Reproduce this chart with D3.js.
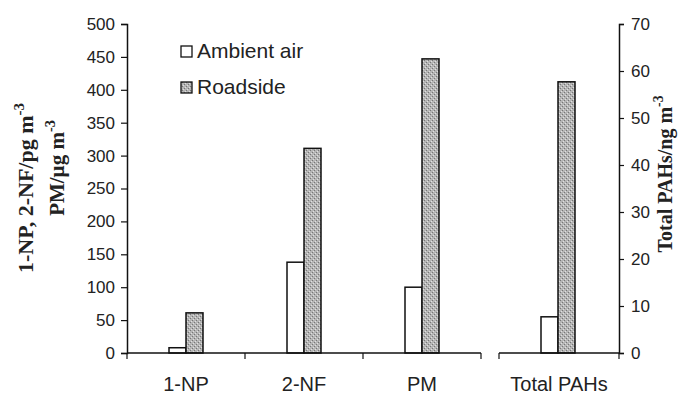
<!DOCTYPE html>
<html>
<head>
<meta charset="utf-8">
<script src="https://cdn.jsdelivr.net/npm/d3@7"></script>
<style>
  body { margin: 0; background: #fff; }
  text { font-family: Arial, "Liberation Sans", sans-serif; fill: #222; }
  .title { font-family: "Times New Roman", "Liberation Serif", serif; font-weight: bold; fill: #222; }
</style>
</head>
<body>
<div id="chart"></div>
<script>
const leftCategories = ["1-NP", "2-NF", "PM"];
const rightCategories = ["Total PAHs"];
const series = ["Ambient air", "Roadside"];
const ambientLeft = [8, 138, 100];
const roadsideLeft = [61, 311, 447];
const ambientRight = [7.7];
const roadsideRight = [57.7];
const leftTicks = [0, 50, 100, 150, 200, 250, 300, 350, 400, 450, 500];
const rightTicks = [0, 10, 20, 30, 40, 50, 60, 70];

const width = 689;
const height = 396;

const svg = d3.select("#chart")
  .append("svg")
  .attr("width", width)
  .attr("height", height);

// dotted grey fill like the scanned original
const pat = svg.append("defs").append("pattern")
  .attr("id", "grain")
  .attr("width", 4)
  .attr("height", 4)
  .attr("patternUnits", "userSpaceOnUse");
pat.append("rect").attr("width", 4).attr("height", 4).attr("fill", "#b5b5b5");
pat.append("rect").attr("x", 0).attr("y", 0).attr("width", 1).attr("height", 1).attr("fill", "#777");
pat.append("rect").attr("x", 2).attr("y", 2).attr("width", 1).attr("height", 1).attr("fill", "#777");
pat.append("rect").attr("x", 1).attr("y", 3).attr("width", 1).attr("height", 1).attr("fill", "#e0e0e0");
pat.append("rect").attr("x", 3).attr("y", 1).attr("width", 1).attr("height", 1).attr("fill", "#e0e0e0");

const y0 = 353, yTop = 24;
const yLeft = d3.scaleLinear().domain([0, 500]).range([y0, yTop]);
const yRight = d3.scaleLinear().domain([0, 70]).range([y0, yTop]);

const xLeft = d3.scaleBand().domain(leftCategories).range([127, 481]);
const xRight = d3.scaleBand().domain(rightCategories).range([499, 619]);

const barW = 17;
const inner = d3.scaleBand().domain(series)
  .range([xLeft.bandwidth() / 2 - barW, xLeft.bandwidth() / 2 + barW]);

function drawBars(x, y, cats, amb, road) {
  cats.forEach((c, i) => {
    [amb[i], road[i]].forEach((v, j) => {
      svg.append("rect")
        .attr("x", x(c) + inner(series[j]))
        .attr("y", y(v))
        .attr("width", inner.bandwidth())
        .attr("height", y0 - y(v))
        .attr("fill", j === 0 ? "#fff" : "url(#grain)")
        .attr("stroke", "#111")
        .attr("stroke-width", 1.5);
    });
  });
}
drawBars(xLeft, yLeft, leftCategories, ambientLeft, roadsideLeft);
drawBars(xRight, yRight, rightCategories, ambientRight, roadsideRight);

// y axes
const axL = svg.append("g")
  .attr("transform", "translate(127,0)")
  .call(d3.axisLeft(yLeft).tickValues(leftTicks).tickSize(6).tickPadding(6));
const axR = svg.append("g")
  .attr("transform", "translate(619,0)")
  .call(d3.axisRight(yRight).tickValues(rightTicks).tickSize(5).tickPadding(7));
[axL, axR].forEach(a => {
  a.select(".domain").attr("stroke", "#111").attr("stroke-width", 1.5);
  a.selectAll(".tick line").attr("stroke", "#111").attr("stroke-width", 1.2);
  a.selectAll(".tick text").style("font-size", "17px").attr("fill", "#222");
});

// x axes with ticks at category boundaries
function xAxis(x, cats) {
  const r = x.range();
  const g = svg.append("g");
  g.append("line")
    .attr("x1", r[0]).attr("x2", r[1])
    .attr("y1", y0).attr("y2", y0)
    .attr("stroke", "#111").attr("stroke-width", 1.5);
  const edges = cats.map(c => x(c)).concat([r[1]]);
  edges.forEach(e => {
    g.append("line")
      .attr("x1", e).attr("x2", e)
      .attr("y1", y0).attr("y2", y0 + 6)
      .attr("stroke", "#111").attr("stroke-width", 1.2);
  });
  cats.forEach(c => {
    g.append("text")
      .attr("x", x(c) + x.bandwidth() / 2)
      .attr("y", 391)
      .attr("text-anchor", "middle")
      .style("font-size", "20px")
      .text(c);
  });
}
xAxis(xLeft, leftCategories);
xAxis(xRight, rightCategories);

// legend
series.forEach((s, i) => {
  const ly = 46 + i * 36;
  svg.append("rect")
    .attr("x", 181).attr("y", ly)
    .attr("width", 11).attr("height", 11)
    .attr("fill", i === 0 ? "#fff" : "url(#grain)")
    .attr("stroke", "#111").attr("stroke-width", 1.3);
  svg.append("text")
    .attr("x", 197).attr("y", ly + 12)
    .style("font-size", "21px")
    .text(s);
});

// axis titles
function rotTitle(x, y, main, size) {
  const t = svg.append("text")
    .attr("class", "title")
    .attr("transform", `translate(${x},${y}) rotate(-90)`)
    .attr("text-anchor", "middle")
    .style("font-size", size + "px");
  t.append("tspan").text(main);
  t.append("tspan").attr("dy", -9).style("font-size", (size * 0.68) + "px").text("-3");
}
rotTitle(33, 188, "1-NP, 2-NF/pg m", 22);
rotTitle(64, 168, "PM/\u00b5g m", 21);
rotTitle(672, 174, "Total PAHs/ng m", 20);
</script>
</body>
</html>
